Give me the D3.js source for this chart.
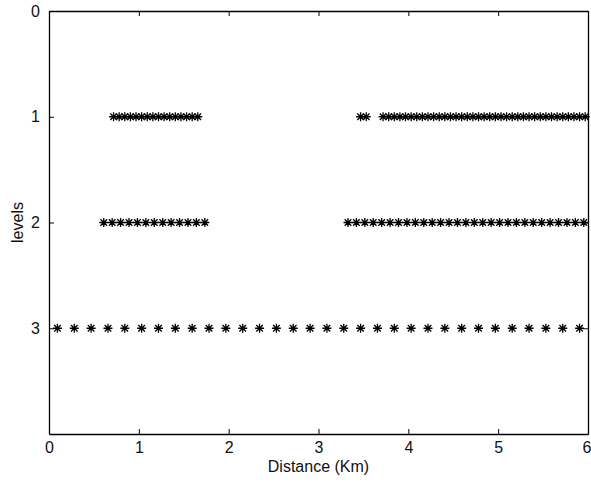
<!DOCTYPE html>
<html>
<head>
<meta charset="utf-8">
<script src="https://cdn.jsdelivr.net/npm/d3@7"></script>
<style>
  html, body { margin: 0; padding: 0; background: #fff; }
  svg { display: block; }
  text { font-family: "Liberation Sans", Arial, Helvetica, sans-serif; fill: #111; }
</style>
</head>
<body>
<svg id="chart" width="591" height="490"></svg>
<script>
// Sampling positions along the profile (km), one list per level.
// Level 3: coarse grid (32 cells, 0.1875 km), every cell sampled.
const level3Index = d3.range(0, 32);
// Level 2: 64 cells (0.09375 km); two sampled stretches.
const level2Index = [6, 7, 8, 9, 10, 11, 12, 13, 14, 15, 16, 17, 18,
  35, 36, 37, 38, 39, 40, 41, 42, 43, 44, 45, 46, 47, 48, 49, 50, 51, 52,
  53, 54, 55, 56, 57, 58, 59, 60, 61, 62, 63];
// Level 1: 96 cells (0.0625 km); finest grid.
const level1Index = [11, 12, 13, 14, 15, 16, 17, 18, 19, 20, 21, 22, 23, 24, 25, 26,
  55, 56,
  59, 60, 61, 62, 63, 64, 65, 66, 67, 68, 69, 70, 71, 72, 73, 74, 75, 76, 77,
  78, 79, 80, 81, 82, 83, 84, 85, 86, 87, 88, 89, 90, 91, 92, 93, 94, 95];

const levels = [1, 2, 3];
const cellsPerLevel = [96, 64, 32];
const indicesPerLevel = [level1Index, level2Index, level3Index];
const xTicks = [0, 1, 2, 3, 4, 5, 6];
const yTicks = [0, 1, 2, 3];
const xLabel = "Distance (Km)";
const yLabel = "levels";
const totalKm = 6;

// Points: cell centres at each level
const points = [];
levels.forEach((lv, k) => {
  const step = totalKm / cellsPerLevel[k];
  indicesPerLevel[k].forEach(i => points.push({ x: (i + 0.5) * step, y: lv }));
});

const margin = { left: 49, right: 3, top: 11, bottom: 56 };
const W = 591, H = 490;
const svg = d3.select("#chart");
const x = d3.scaleLinear().domain([0, 6]).range([margin.left, W - margin.right]);
const y = d3.scaleLinear().domain([0, 4]).range([margin.top, H - margin.bottom]);

const tickLen = 5;
const tickFont = "'Liberation Sans Narrow', 'Arial Narrow', 'Liberation Sans', Arial, sans-serif";

// Axes with inward ticks on all four sides
const gx = svg.append("g").attr("transform", `translate(0,${y(4)})`)
  .call(d3.axisBottom(x).tickValues(xTicks).tickSizeInner(-tickLen).tickSizeOuter(0).tickPadding(tickLen + 3).tickFormat(d3.format("d")));
const gxTop = svg.append("g").attr("transform", `translate(0,${y(0)})`)
  .call(d3.axisTop(x).tickValues(xTicks).tickSizeInner(-tickLen).tickSizeOuter(0).tickFormat(""));
const gy = svg.append("g").attr("transform", `translate(${x(0)},0)`)
  .call(d3.axisLeft(y).tickValues(yTicks).tickSizeInner(-tickLen).tickSizeOuter(0).tickPadding(tickLen + 4).tickFormat(d3.format("d")));
const gyRight = svg.append("g").attr("transform", `translate(${x(6)},0)`)
  .call(d3.axisRight(y).tickValues(yTicks).tickSizeInner(-tickLen).tickSizeOuter(0).tickFormat(""));

[gx, gxTop, gy, gyRight].forEach(g => {
  g.select(".domain").attr("stroke", "#000").attr("stroke-width", 1.3);
  g.selectAll(".tick line").attr("stroke", "#000").attr("stroke-width", 1);
  g.selectAll("text").attr("font-size", 16).attr("fill", "#111")
    .attr("font-family", tickFont);
});
// The last x label sits at the right edge; keep it inside the frame
gx.selectAll(".tick").filter(d => d === 6).select("text").attr("text-anchor", "end").attr("dx", 3);

// Asterisk markers (plus + cross)
const r = 4.5, rd = 3.3;
const star = `M${-r},0H${r}M0,${-r}V${r}M${-rd},${-rd}L${rd},${rd}M${-rd},${rd}L${rd},${-rd}`;
svg.append("g").selectAll("path.pt").data(points).join("path")
  .attr("class", "pt")
  .attr("transform", d => `translate(${x(d.x)},${y(d.y)})`)
  .attr("d", star)
  .attr("stroke", "#000")
  .attr("stroke-width", 1.3)
  .attr("fill", "none");

// Axis titles
svg.append("text")
  .attr("x", (x(0) + x(6)) / 2).attr("y", 472)
  .attr("text-anchor", "middle").attr("font-size", 16)
  .text(xLabel);
svg.append("text")
  .attr("transform", `translate(23,${(y(0) + y(4)) / 2}) rotate(-90)`)
  .attr("text-anchor", "middle").attr("font-size", 16)
  .text(yLabel);
</script>
</body>
</html>
